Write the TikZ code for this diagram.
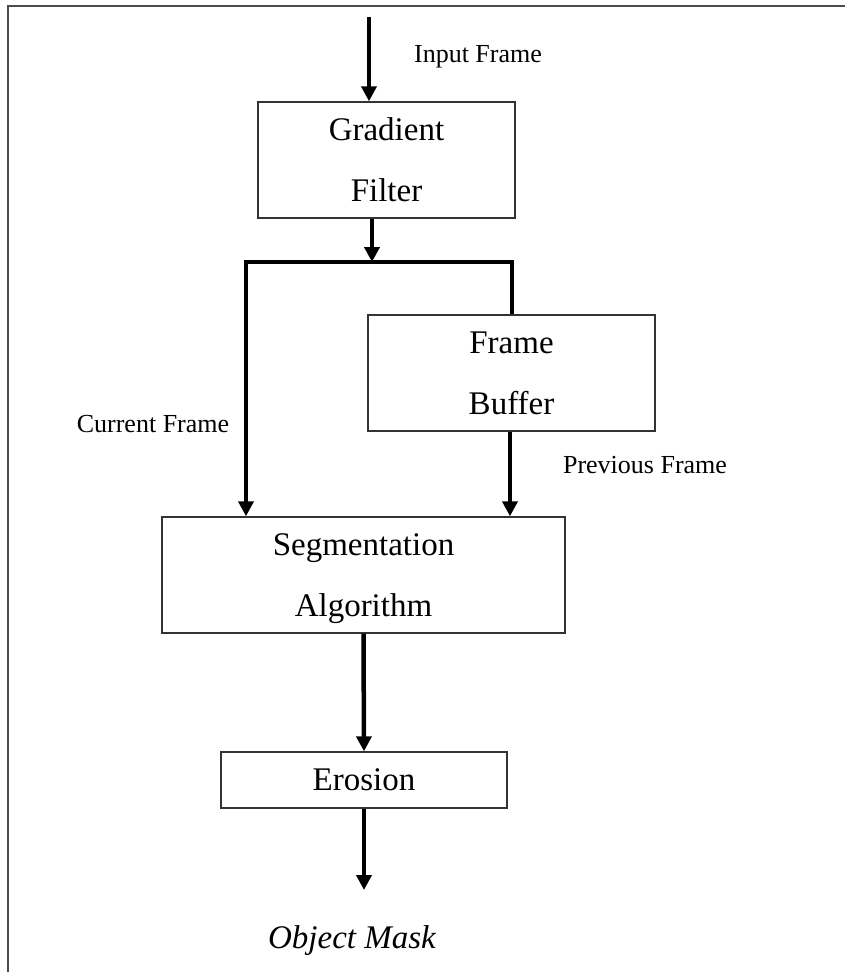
\documentclass[tikz,border=0pt]{standalone}
\usepackage{fontspec}
\setmainfont{Liberation Serif}
\usetikzlibrary{arrows.meta,positioning,calc}

\begin{document}
\begin{tikzpicture}[x=1pt,y=-1pt,
    blk/.style={draw=black!80,line width=1.4pt,minimum height=116pt,align=center,text depth=0pt,inner sep=0pt,font={\fontsize{33}{61}\selectfont}},
    flow/.style={line width=4.5pt,-{Triangle[width=15pt,length=15pt]}},
    lbl/.style={font={\fontsize{26}{30}\selectfont},inner sep=0pt}]
    \useasboundingbox (0,0) rectangle (845,972);
    \draw[black!70,line width=2pt] (8,972) -- (8,6) -- (845,6);
    % Blocks
    \node[blk,minimum width=257pt] (grad) at (386.5,160) {Gradient\\Filter};
    \node[blk,minimum width=287pt] (buf) at (511.5,373) {Frame\\Buffer};
    \node[blk,minimum width=403pt] (seg) at (363.5,575) {Segmentation\\Algorithm};
    \node[blk,minimum width=286pt,minimum height=56pt] (ero) at (364,780) {Erosion};
    % Labels
    \node[lbl,anchor=base] (inLbl) at (478,62) {Input Frame};
    \node[lbl,anchor=base] (curLbl) at (153,432) {Current Frame};
    \node[lbl,anchor=base] (prevLbl) at (645,473) {Previous Frame};
    \node[anchor=base,inner sep=0pt,font={\fontsize{33}{40}\selectfont\itshape}] (mask) at (352,948) {Object Mask};
    % Branch points
    \coordinate (inTop) at (369,17);
    \coordinate (split) at (372,262);
    \coordinate (splitL) at (246,262);
    \coordinate (splitR) at (512,262);
    \coordinate (maskIn) at (364,890);
    % Flow
    \draw[flow] (inTop) -- (inTop |- grad.north);
    \draw[flow] (grad.south -| split) -- (split);
    \draw[line width=4.5pt,line join=miter] (splitR |- buf.north) -- (splitR) -- (splitL) -- ($(splitL)+(0,20)$);
    \draw[flow] (splitL) -- (splitL |- seg.north);
    \draw[flow] (buf.south -| 510,0) -- (seg.north -| 510,0);
    \draw[flow] (seg.south) -- (ero.north);
    \draw[flow] (ero.south) -- (maskIn);
\end{tikzpicture}
\end{document}
